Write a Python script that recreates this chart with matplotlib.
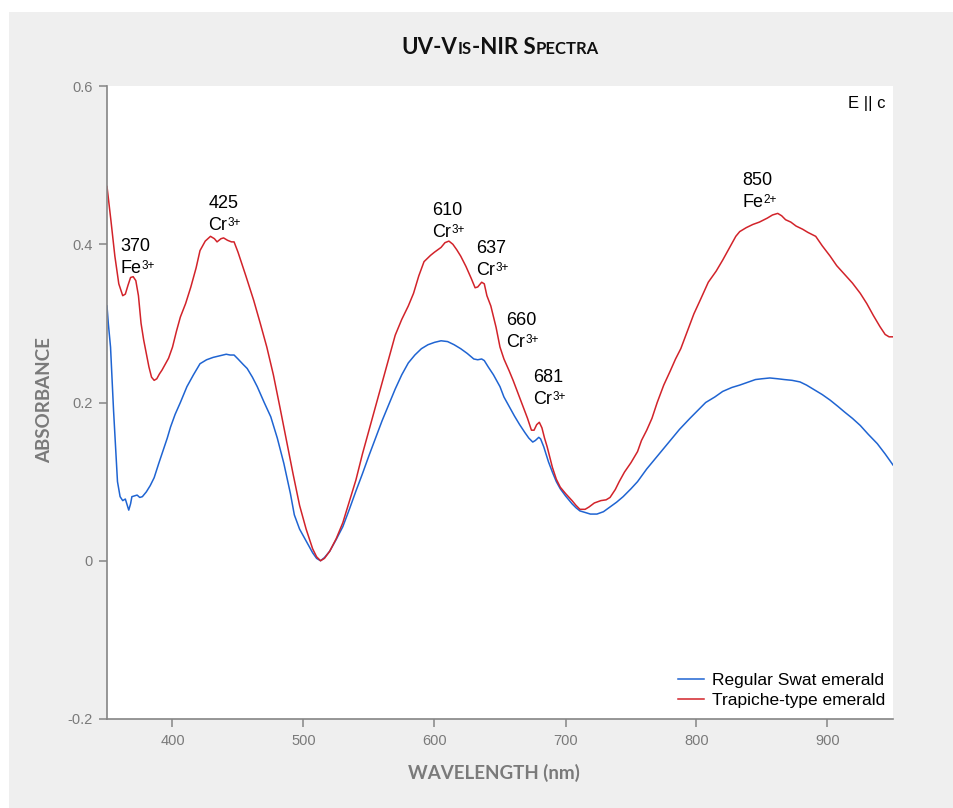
import matplotlib
matplotlib.use("Agg")
import matplotlib.pyplot as plt
from matplotlib.patches import Rectangle

# Spectra (wavelength in nm, absorbance)
trapiche_wl = [350, 353, 356, 359, 362, 364, 366, 368, 370, 372, 374, 376, 378, 380, 382, 384, 386, 388,
               390, 392, 395, 397, 400, 403, 406, 410, 414, 418, 421, 425, 429, 432, 434, 437, 439, 442,
               445, 447, 450, 452, 456, 462, 467, 472, 477, 482, 487, 492, 497, 502, 507, 510, 513, 516,
               520, 525, 530, 535, 540, 545, 550, 555, 560, 565, 570, 575, 580, 584, 588, 592, 597, 600,
               605, 608, 611, 614, 617, 620, 624, 628, 631, 633, 636, 638, 640, 643, 647, 650, 653, 657,
               660, 663, 667, 671, 674, 676, 678, 680, 682, 684, 686, 690, 693, 696, 700, 705, 708, 711,
               715, 718, 722, 727, 731, 734, 738, 741, 745, 750, 755, 758, 762, 766, 770, 775, 780, 784,
               788, 793, 798, 803, 809, 815, 820, 825, 830, 833, 838, 843, 848, 854, 858, 862, 865, 868,
               872, 876, 881, 885, 891, 896, 902, 907, 913, 919, 925, 930, 935, 940, 944, 947, 950]
trapiche_abs = [0.473, 0.43, 0.385, 0.35, 0.335, 0.337, 0.348, 0.358, 0.359, 0.354, 0.335, 0.30, 0.279,
                0.262, 0.245, 0.232, 0.228, 0.23, 0.236, 0.241, 0.25, 0.256, 0.27, 0.29, 0.308, 0.325,
                0.346, 0.37, 0.392, 0.404, 0.41, 0.407, 0.403, 0.407, 0.408, 0.405, 0.403, 0.403, 0.39,
                0.38, 0.36, 0.329, 0.30, 0.27, 0.235, 0.194, 0.152, 0.11, 0.07, 0.04, 0.015, 0.005, 0.0,
                0.003, 0.012, 0.028, 0.048, 0.075, 0.102, 0.135, 0.165, 0.195, 0.225, 0.255, 0.285, 0.305,
                0.322, 0.338, 0.36, 0.378, 0.386, 0.39, 0.396, 0.402, 0.404, 0.40, 0.393, 0.385, 0.372,
                0.357, 0.345, 0.346, 0.352, 0.35, 0.335, 0.322, 0.295, 0.27, 0.255, 0.24, 0.228, 0.215,
                0.198, 0.18, 0.165, 0.165, 0.172, 0.175, 0.168, 0.155, 0.144, 0.118, 0.103, 0.093, 0.085,
                0.076, 0.07, 0.065, 0.065, 0.068, 0.073, 0.076, 0.077, 0.08, 0.09, 0.1, 0.112, 0.124,
                0.138, 0.152, 0.165, 0.18, 0.2, 0.222, 0.24, 0.255, 0.268, 0.29, 0.312, 0.33, 0.352,
                0.366, 0.38, 0.395, 0.41, 0.416, 0.421, 0.425, 0.428, 0.433, 0.437, 0.439, 0.436, 0.431,
                0.428, 0.423, 0.419, 0.415, 0.41, 0.398, 0.385, 0.373, 0.362, 0.351, 0.338, 0.325, 0.31,
                0.296, 0.286, 0.283, 0.283]

regular_wl = [350, 351, 352.7, 355, 356.5, 358, 360, 362, 364, 365.5, 366.6, 368, 369, 371, 373, 375, 377,
              380, 383, 386, 389.5, 393, 396, 398.5, 402, 406, 411, 416, 421, 426, 431, 436, 441, 444,
              447, 450, 454, 457, 461, 464.7, 470, 475, 480, 485, 490, 493, 497, 502, 507, 510, 513, 516,
              520, 525, 530, 535, 540, 545, 550, 555, 560, 565, 570, 575, 580, 585, 590, 595, 600, 605,
              610, 615, 620, 625, 630, 633, 636, 638, 641, 645, 650, 653, 657, 661, 665, 669, 672, 675,
              677, 679.6, 681, 683.4, 687, 690, 693, 696, 700, 705, 708, 711, 715, 719, 724, 729, 734,
              739, 744, 747, 750, 755, 762, 768, 774, 780, 787, 795, 801, 807, 814, 820, 827, 833, 840,
              845, 850, 856, 862, 867, 873, 879, 884, 890, 896, 902, 908, 913, 919, 925, 931, 938, 944, 950]
regular_abs = [0.322, 0.30, 0.27, 0.19, 0.144, 0.10, 0.081, 0.076, 0.078, 0.07, 0.064, 0.072, 0.081,
               0.082, 0.083, 0.08, 0.081, 0.087, 0.095, 0.105, 0.123, 0.14, 0.155, 0.169, 0.185, 0.2,
               0.22, 0.235, 0.249, 0.254, 0.257, 0.259, 0.261, 0.26, 0.26, 0.255, 0.248, 0.243, 0.232,
               0.22, 0.2, 0.182, 0.155, 0.123, 0.085, 0.058, 0.04, 0.025, 0.01, 0.003, 0.0, 0.004, 0.012,
               0.027, 0.043, 0.065, 0.088, 0.11, 0.133, 0.155, 0.177, 0.197, 0.217, 0.235, 0.25, 0.26,
               0.268, 0.273, 0.276, 0.278, 0.277, 0.273, 0.268, 0.262, 0.255, 0.254, 0.255, 0.253, 0.245,
               0.235, 0.22, 0.207, 0.195, 0.183, 0.172, 0.162, 0.155, 0.15, 0.152, 0.156, 0.154, 0.144,
               0.125, 0.112, 0.1, 0.091, 0.082, 0.072, 0.067, 0.063, 0.061, 0.059, 0.059, 0.062, 0.068,
               0.074, 0.081, 0.086, 0.091, 0.1, 0.116, 0.128, 0.14, 0.152, 0.166, 0.18, 0.19, 0.2, 0.207,
               0.214, 0.219, 0.222, 0.226, 0.229, 0.23, 0.231, 0.23, 0.229, 0.228, 0.226, 0.222, 0.216,
               0.21, 0.203, 0.195, 0.188, 0.18, 0.171, 0.16, 0.148, 0.135, 0.121]

# Band labels: number, ion, charge, label left x (nm), y of number and ion lines
band_numbers = ["370", "425", "610", "637", "660", "681", "850"]
band_ions = ["Fe", "Cr", "Cr", "Cr", "Cr", "Cr", "Fe"]
band_charges = ["3+", "3+", "3+", "3+", "3+", "3+", "2+"]
band_x = [360.3, 427.3, 598.5, 632.0, 655.0, 675.5, 835.0]
band_y_num = [0.397, 0.452, 0.443, 0.395, 0.304, 0.232, 0.481]
band_y_ion = [0.369, 0.424, 0.415, 0.367, 0.276, 0.204, 0.453]

x_ticks = [400, 500, 600, 700, 800, 900]
y_ticks = [-0.2, 0, 0.2, 0.4, 0.6]
y_tick_labels = ["-0.2", "0", "0.2", "0.4", "0.6"]

BLUE = "#1f64d2"
RED = "#d2232a"
GREY_BG = "#efefef"
AXIS_GREY = "#858585"
LABEL_GREY = "#7a7a7a"

plt.rcParams["font.family"] = "Liberation Sans"

fig = plt.figure(figsize=(9.54, 8.08), dpi=100, facecolor="white")
fig.patches.append(Rectangle((9 / 954, 0), 1 - 9 / 954, 1 - 12 / 808, transform=fig.transFigure,
                             facecolor=GREY_BG, edgecolor="none", zorder=-10))

ax = fig.add_axes([107 / 954, 89 / 808, 786 / 954, 633 / 808])
ax.set_facecolor("white")

ax.plot(regular_wl, regular_abs, color=BLUE, lw=1.1, label="Regular Swat emerald")
ax.plot(trapiche_wl, trapiche_abs, color=RED, lw=1.1, label="Trapiche-type emerald")

ax.set_xlim(350, 950)
ax.set_ylim(-0.2, 0.6)
ax.set_xticks(x_ticks)
ax.set_yticks(y_ticks)
ax.set_yticklabels(y_tick_labels)

for side in ["top", "right"]:
    ax.spines[side].set_visible(False)
for side in ["left", "bottom"]:
    ax.spines[side].set_color(AXIS_GREY)
    ax.spines[side].set_linewidth(1.2)
ax.tick_params(direction="out", length=5.5, width=1.1, color=AXIS_GREY,
               labelcolor=LABEL_GREY, labelsize=10.5, pad=5)

for num, ion, charge, bx, yn, yi in zip(band_numbers, band_ions, band_charges,
                                        band_x, band_y_num, band_y_ion):
    ax.text(bx, yn, num, fontsize=13, ha="left", va="center", color="black")
    ion_txt = ax.text(bx, yi, ion, fontsize=13, ha="left", va="center", color="black")
    ax.annotate(charge, xy=(1, 1.0), xycoords=ion_txt, xytext=(0.3, 0), textcoords="offset points",
                fontsize=8.5, ha="left", va="top", color="black")

ax.text(0.991, 0.973, "E || c", transform=ax.transAxes, fontsize=12, ha="right", va="center")

ax.legend(loc="lower right", bbox_to_anchor=(0.995, 0.012), frameon=False, fontsize=12.5,
          handlelength=1.5, handletextpad=0.5, labelspacing=0.25, borderaxespad=0, borderpad=0.2)

label_font = {"family": "Lato", "weight": "bold", "color": LABEL_GREY, "size": 13.5}
fig.text(45 / 954, 1 - 400 / 808, "ABSORBANCE", rotation=90, ha="center", va="center", fontdict=label_font)
fig.text(494 / 954, 1 - 773 / 808, "WAVELENGTH (nm)", ha="center", va="center", fontdict=label_font)

# Title in small caps, built from pieces placed side by side on one baseline
title_parts = [("UV-V", 16), ("IS", 12), ("-NIR S", 16), ("PECTRA", 12)]
renderer = fig.canvas.get_renderer()
pieces = []
for txt, size in title_parts:
    t = fig.text(0, 1 - 54 / 808, txt, fontsize=size, family="Lato", weight="bold",
                 ha="left", va="baseline", color="#111111")
    pieces.append(t)
widths = [p.get_window_extent(renderer).width for p in pieces]
x_px = 500 - sum(widths) / 2
for p, w in zip(pieces, widths):
    p.set_x(x_px / 954)
    x_px += w

fig.savefig("out.png", dpi=100, facecolor="white")
